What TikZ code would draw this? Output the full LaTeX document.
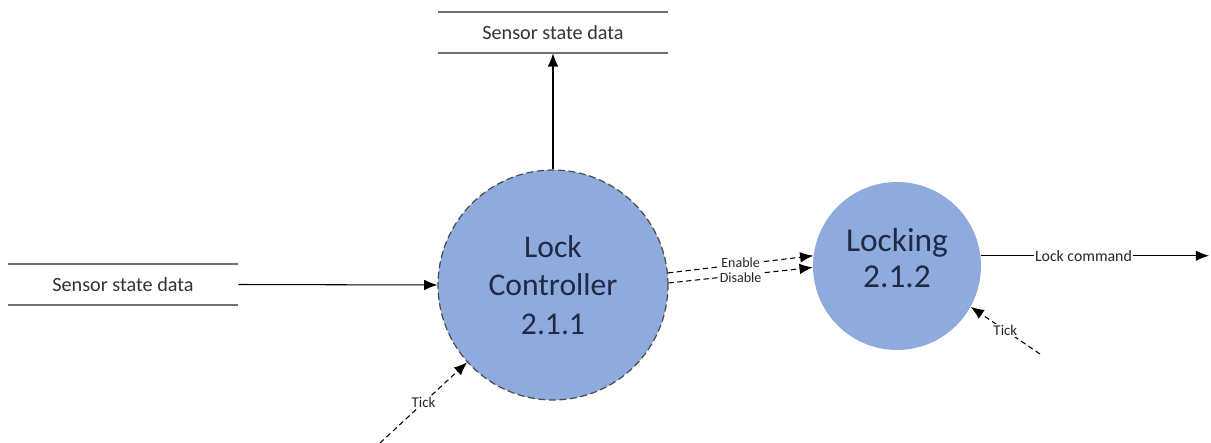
\documentclass[tikz,border=0pt]{standalone}
\usepackage{fontspec}
\setmainfont{Carlito}
\usetikzlibrary{arrows.meta}
\definecolor{bubble}{HTML}{8FAADC}
\definecolor{bubbletext}{HTML}{1F2A48}
\definecolor{storegray}{HTML}{707070}
\tikzset{
  process/.style={circle, fill=bubble, text=bubbletext, align=center,
    font=\fontsize{18}{22}\selectfont, inner sep=0pt},
  store/.style={minimum width=4.6cm, minimum height=0.82cm, inner sep=0pt,
    font=\fontsize{11.5}{13}\selectfont, text=black!80},
  storeline/.style={draw=storegray, line width=1.1pt},
  flow/.style={-{Latex[length=7.5pt,width=6pt]}, line width=0.6pt},
  ctrlflow/.style={flow, dash pattern=on 3pt off 2pt},
  lbl/.style={font=\fontsize{8.5}{10}\selectfont, fill=white, inner sep=0.6pt, text=black!85}
}
\begin{document}
\begin{tikzpicture}[x=0.02cm, y=-0.02cm]
      \useasboundingbox (0,0) rectangle (1211,443);
      % processes
      \node[process, minimum size=4.6cm, draw=black!70, line width=0.7pt,
        dash pattern=on 4pt off 2pt] (ctrl) at (553,285) {Lock\\Controller\\2.1.1};
      \node[process, minimum size=3.36cm,
        label={[process, fill=none, font=\fontsize{19}{20}\selectfont, yshift=4.5pt]center:Locking\\2.1.2}] (lock) at (897,266) {};
      % data stores
      \node[store] (top) at (553,32.5) {Sensor state data};
      \draw[storeline] (top.north west) -- (top.north east);
      \draw[storeline] (top.south west) -- (top.south east);
      \node[store] (left) at (123,284.5) {Sensor state data};
      \draw[storeline] (left.north west) -- (left.north east);
      \draw[storeline] (left.south west) -- (left.south east);
      % free ends
      \coordinate (cmdend) at (1209,255);
      \coordinate (tickA) at (380,443);
      \coordinate (tickB) at (1040,354);
      % flows
      \draw[ctrlflow] (ctrl.1) -- node[lbl, pos=0.5, yshift=-1.5pt, font=\fontsize{8}{9}\selectfont] {Disable} (lock.181.3);
      \draw[ctrlflow] (ctrl.6.5) -- node[lbl, pos=0.5, yshift=1pt, font=\fontsize{8}{9}\selectfont] {Enable} (lock.173);
      \draw[flow] (ctrl.north) -- (top.south);
      \draw[flow] (left.east) -- (ctrl.west);
      \draw[flow] (lock.7.5) -- node[lbl, pos=0.45, font=\fontsize{9}{10}\selectfont] {Lock command} (lock.7.5 -| cmdend);
      \draw[ctrlflow] (tickA) -- node[lbl] {Tick} (ctrl.222);
      \draw[ctrlflow] (tickB) -- node[lbl] {Tick} (lock.-29);
    \end{tikzpicture}
\end{document}
